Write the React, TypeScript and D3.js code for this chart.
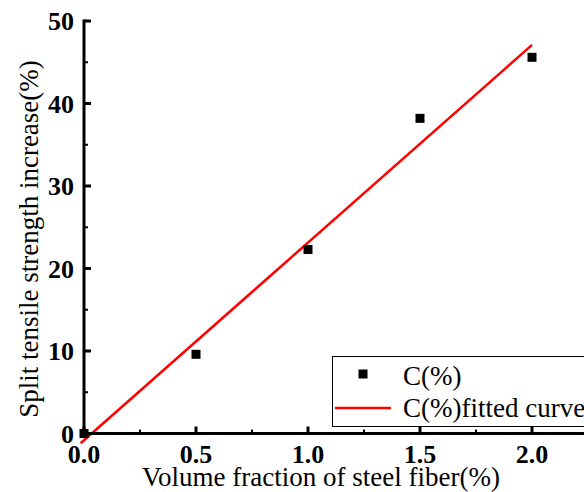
import React, { useEffect, useRef } from 'react'
import * as d3 from 'd3'

const fiberFraction = [0, 0.5, 1.0, 1.5, 2.0]
const strengthIncrease = [0, 9.6, 22.3, 38.2, 45.6]
const xTicks = [0, 0.5, 1.0, 1.5, 2.0]
const yTicks = [0, 10, 20, 30, 40, 50]
const fitRange = [-0.015, 2.0]

const App = () => {
  const svgRef = useRef<SVGSVGElement>(null)

  useEffect(() => {
    if (!svgRef.current) return
    const svg = d3.select(svgRef.current)
    svg.selectAll('*').remove()

    const width = 584
    const height = 492
    const margin = { top: 21, left: 84, bottom: 59 }
    const font = 'Liberation Serif, DejaVu Serif, serif'

    const x = d3.scaleLinear().domain([0, 0.5]).range([margin.left, margin.left + 112])
    const y = d3.scaleLinear().domain([0, 50]).range([height - margin.bottom + 0.5, margin.top])

    // least squares fit
    const mx = d3.mean(fiberFraction)!
    const my = d3.mean(strengthIncrease)!
    const sxy = d3.sum(fiberFraction, (v, i) => (v - mx) * (strengthIncrease[i] - my))
    const sxx = d3.sum(fiberFraction, v => (v - mx) ** 2)
    const slope = sxy / sxx
    const intercept = my - slope * mx

    const x0 = x(0)
    const y0 = y(0)

    // fitted line
    const line = d3.line<number>().x(d => x(d)).y(d => y(slope * d + intercept))
    svg.append('path')
      .attr('d', line(fitRange))
      .attr('stroke', '#ff0000')
      .attr('stroke-width', 2.5)
      .attr('fill', 'none')

    // points
    const sz = 9
    svg.selectAll('.pt')
      .data(fiberFraction)
      .enter()
      .append('rect')
      .attr('x', d => x(d) - sz / 2)
      .attr('y', (d, i) => y(strengthIncrease[i]) - sz / 2)
      .attr('width', sz)
      .attr('height', sz)
      .attr('fill', '#000')

    // axes lines
    svg.append('line')
      .attr('x1', x0).attr('x2', x0)
      .attr('y1', y(50) - 1.5).attr('y2', y0 + 1.5)
      .attr('stroke', '#000').attr('stroke-width', 3)
    svg.append('line')
      .attr('x1', x0 - 1.5).attr('x2', width + 10)
      .attr('y1', y0).attr('y2', y0)
      .attr('stroke', '#000').attr('stroke-width', 3)

    const txt = svg.append('g').attr('font-family', font)

    // y ticks
    yTicks.forEach(t => {
      svg.append('line')
        .attr('x1', x0).attr('x2', x0 + 7)
        .attr('y1', y(t)).attr('y2', y(t))
        .attr('stroke', '#000').attr('stroke-width', 3)
      if (t < 50) {
        svg.append('line')
          .attr('x1', x0).attr('x2', x0 + 4)
          .attr('y1', y(t + 5)).attr('y2', y(t + 5))
          .attr('stroke', '#000').attr('stroke-width', 2)
      }
      txt.append('text')
        .attr('x', x0 - 10)
        .attr('y', y(t))
        .attr('dy', '0.35em')
        .attr('text-anchor', 'end')
        .attr('font-weight', 'bold')
        .attr('font-size', 26)
        .text(t)
    })

    // x ticks
    xTicks.forEach(t => {
      svg.append('line')
        .attr('x1', x(t)).attr('x2', x(t))
        .attr('y1', y0).attr('y2', y0 - 7)
        .attr('stroke', '#000').attr('stroke-width', 3)
      svg.append('line')
        .attr('x1', x(t + 0.25)).attr('x2', x(t + 0.25))
        .attr('y1', y0).attr('y2', y0 - 4)
        .attr('stroke', '#000').attr('stroke-width', 2)
      txt.append('text')
        .attr('x', x(t))
        .attr('y', 463)
        .attr('text-anchor', 'middle')
        .attr('font-weight', 'bold')
        .attr('font-size', 26)
        .text(t.toFixed(1))
    })

    // axis titles
    txt.append('text')
      .attr('x', 321)
      .attr('y', 486)
      .attr('text-anchor', 'middle')
      .attr('font-size', 27)
      .text('Volume fraction of steel fiber(%)')
    txt.append('text')
      .attr('transform', `translate(38, 239) rotate(-90)`)
      .attr('text-anchor', 'middle')
      .attr('font-size', 27)
      .text('Split tensile strength increase(%)')

    // legend
    const lg = svg.append('g')
    lg.append('rect')
      .attr('x', 332.5).attr('y', 356.5)
      .attr('width', 300).attr('height', 70)
      .attr('fill', '#fff')
      .attr('stroke', '#000').attr('stroke-width', 1)
    lg.append('rect')
      .attr('x', 363 - sz / 2).attr('y', 374 - sz / 2)
      .attr('width', sz).attr('height', sz)
      .attr('fill', '#000')
    lg.append('line')
      .attr('x1', 335).attr('x2', 391)
      .attr('y1', 408).attr('y2', 408)
      .attr('stroke', '#ff0000').attr('stroke-width', 2.5)
    const lt = svg.append('g').attr('font-family', font).attr('font-size', 27)
    lt.append('text').attr('x', 403).attr('y', 385).text('C(%)')
    lt.append('text').attr('x', 403).attr('y', 417).text('C(%)fitted curve')
  }, [])

  return (
    <svg
      ref={svgRef}
      width={584}
      height={492}
      style={{ position: 'absolute', left: 0, top: 0, background: '#fff' }}
    />
  )
}

export default App
